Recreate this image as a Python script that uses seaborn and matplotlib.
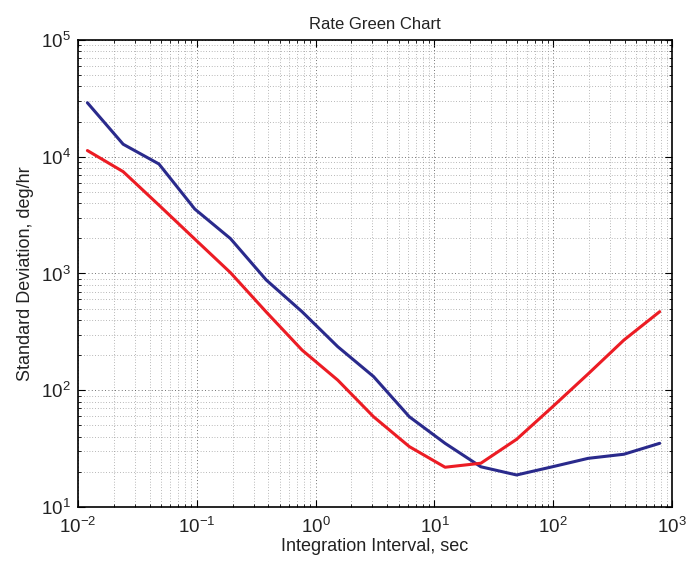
import numpy as np
import pandas as pd
import seaborn as sns
import matplotlib
matplotlib.use("Agg")
import matplotlib.pyplot as plt
from matplotlib.ticker import LogLocator, NullFormatter, FuncFormatter

# Data
interval = [0.012, 0.024, 0.048, 0.096, 0.192, 0.384, 0.768, 1.536, 3.072,
            6.144, 12.29, 24.58, 49.15, 98.3, 196.6, 393.2, 786.4]
blue_sd = [29000, 12800, 8670, 3570, 1990, 880, 471, 236, 131,
           59.3, 35.1, 22.1, 18.8, 22.1, 26.1, 28.3, 35.1]
red_sd = [11300, 7450, 3850, 1975, 1016, 468, 221, 122, 59.3,
          32.9, 21.9, 23.7, 38.0, 71.9, 138, 269, 471]

df = pd.DataFrame({
    "x": interval * 2,
    "y": blue_sd + red_sd,
    "series": ["blue"] * len(interval) + ["red"] * len(interval),
})

sns.set_theme(style="white")
plt.rcParams['font.family'] = ['Liberation Sans', 'DejaVu Sans']
plt.rcParams['mathtext.fontset'] = 'custom'
plt.rcParams['mathtext.rm'] = 'Liberation Sans'
plt.rcParams['mathtext.default'] = 'regular'
plt.rcParams['axes.unicode_minus'] = False

fig = plt.figure(figsize=(6.86, 5.69), dpi=100)
ax = fig.add_axes([0.1137, 0.109, 0.866, 0.8207])

sns.lineplot(data=df, x="x", y="y", hue="series",
             palette={"blue": "#2a2a8c", "red": "#ec1c24"},
             linewidth=2.2, legend=False, ax=ax, sort=False)

ax.set_xscale("log")
ax.set_yscale("log")
ax.set_xlim(1e-2, 1e3)
ax.set_ylim(1e1, 1e5)

ax.xaxis.set_major_locator(LogLocator(base=10, numticks=20))
ax.yaxis.set_major_locator(LogLocator(base=10, numticks=20))
ax.xaxis.set_minor_locator(LogLocator(base=10, subs=np.arange(2, 10), numticks=20))
ax.yaxis.set_minor_locator(LogLocator(base=10, subs=np.arange(2, 10), numticks=20))
ax.xaxis.set_minor_formatter(NullFormatter())
ax.yaxis.set_minor_formatter(NullFormatter())
fmt = FuncFormatter(lambda v, p: r"$10^{%d}$" % int(round(np.log10(v))))
ax.xaxis.set_major_formatter(fmt)
ax.yaxis.set_major_formatter(fmt)

ax.grid(True, which="major", linestyle=(0, (1, 3)), color="#444444", linewidth=0.6)
ax.grid(True, which="minor", linestyle=(0, (1, 3)), color="#777777", linewidth=0.5)

ax.tick_params(which="both", direction="in", top=True, right=True,
               bottom=True, left=True, colors="black", labelcolor="#222222")
ax.tick_params(which="major", length=5, width=0.8, labelsize=13.5)
ax.tick_params(axis="x", which="major", pad=7)
ax.tick_params(axis="y", which="major", pad=5)
ax.tick_params(which="minor", length=2.5, width=0.6)
for s in ax.spines.values():
    s.set_color("black")
    s.set_linewidth(1.2)

ax.set_title("Rate Green Chart", fontsize=12, color="#222222", pad=8)
ax.set_xlabel("Integration Interval, sec", fontsize=13, color="#222222", labelpad=1)
ax.set_ylabel("Standard Deviation, deg/hr", fontsize=13, color="#222222", labelpad=5)

fig.savefig("out.png", dpi=100)
